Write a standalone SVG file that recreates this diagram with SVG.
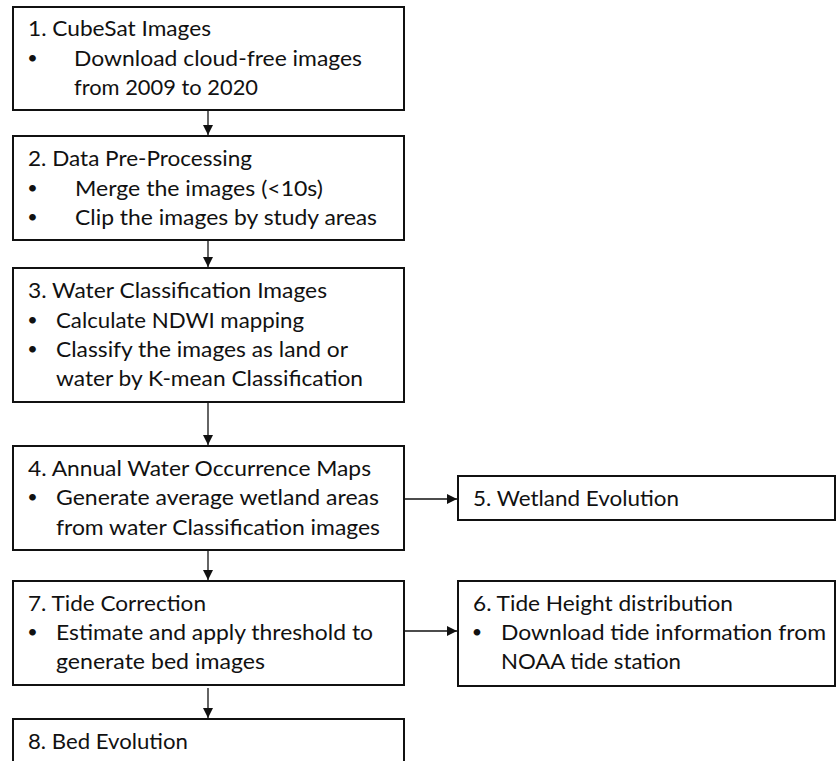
<svg xmlns="http://www.w3.org/2000/svg" width="837" height="761" viewBox="0 0 837 761">
  <style>
    .box { fill: #ffffff; stroke: #111111; stroke-width: 2; }
    .t { font-family: Lato, "Open Sans", "Liberation Sans", sans-serif; font-size: 21.5px; fill: #111111; }
    .b { font-family: Lato, "Open Sans", "Liberation Sans", sans-serif; font-size: 18px; fill: #111111; text-anchor: middle; }
    .link { stroke: #111111; stroke-width: 1.3; fill: none; marker-end: url(#head); }
  </style>
  <defs>
    <marker id="head" viewBox="0 0 10 10" refX="10" refY="5" markerWidth="10" markerHeight="10" markerUnits="userSpaceOnUse" orient="auto">
      <path d="M0,0 L10,5 L0,10 Z" fill="#111111"/>
    </marker>
  </defs>
  <rect width="837" height="761" fill="#ffffff"/>

  <g id="connectors">
    <line class="link" x1="208" y1="111" x2="208" y2="135"/>
    <line class="link" x1="208" y1="241" x2="208" y2="267"/>
    <line class="link" x1="208" y1="403" x2="208" y2="445"/>
    <line class="link" x1="208" y1="551" x2="208" y2="580"/>
    <line class="link" x1="208" y1="688" x2="208" y2="718"/>
    <line class="link" x1="404" y1="499" x2="457" y2="499"/>
    <line class="link" x1="404" y1="631" x2="457" y2="631"/>
  </g>

  <g id="cubesat">
    <rect class="box" x="13" y="7" width="391" height="103"/>
    <text class="t" x="28" y="36" textLength="183" lengthAdjust="spacingAndGlyphs">1. CubeSat Images</text>
    <text class="b" x="32.5" y="63.5">•</text>
    <text class="t" x="74" y="65.5" textLength="288" lengthAdjust="spacingAndGlyphs">Download cloud-free images</text>
    <text class="t" x="74" y="94.5" textLength="184" lengthAdjust="spacingAndGlyphs">from 2009 to 2020</text>
  </g>

  <g id="preprocessing">
    <rect class="box" x="13" y="136" width="391" height="104"/>
    <text class="t" x="28" y="166" textLength="224" lengthAdjust="spacingAndGlyphs">2. Data Pre-Processing</text>
    <text class="b" x="32.5" y="193.5">•</text>
    <text class="t" x="75" y="195.5" textLength="248" lengthAdjust="spacingAndGlyphs">Merge the images (&lt;10s)</text>
    <text class="b" x="32.5" y="222.5">•</text>
    <text class="t" x="75" y="224.5" textLength="302" lengthAdjust="spacingAndGlyphs">Clip the images by study areas</text>
  </g>

  <g id="classification">
    <rect class="box" x="13" y="268" width="391" height="134"/>
    <text class="t" x="28" y="298" textLength="299" lengthAdjust="spacingAndGlyphs">3. Water Classification Images</text>
    <text class="b" x="32.5" y="325.5">•</text>
    <text class="t" x="56" y="327.5" textLength="248" lengthAdjust="spacingAndGlyphs">Calculate NDWI mapping</text>
    <text class="b" x="32.5" y="354.5">•</text>
    <text class="t" x="56" y="356.5" textLength="292" lengthAdjust="spacingAndGlyphs">Classify the images as land or</text>
    <text class="t" x="56" y="386" textLength="307" lengthAdjust="spacingAndGlyphs">water by K-mean Classification</text>
  </g>

  <g id="occurrence">
    <rect class="box" x="13" y="446" width="391" height="104"/>
    <text class="t" x="28" y="476" textLength="343" lengthAdjust="spacingAndGlyphs">4. Annual Water Occurrence Maps</text>
    <text class="b" x="32.5" y="503">•</text>
    <text class="t" x="56" y="505" textLength="323" lengthAdjust="spacingAndGlyphs">Generate average wetland areas</text>
    <text class="t" x="56" y="535" textLength="324" lengthAdjust="spacingAndGlyphs">from water Classification images</text>
  </g>

  <g id="wetland">
    <rect class="box" x="458" y="476" width="377" height="44"/>
    <text class="t" x="473" y="506" textLength="206" lengthAdjust="spacingAndGlyphs">5. Wetland Evolution</text>
  </g>

  <g id="tide-height">
    <rect class="box" x="458" y="581" width="377" height="105"/>
    <text class="t" x="473" y="611" textLength="260" lengthAdjust="spacingAndGlyphs">6. Tide Height distribution</text>
    <text class="b" x="477" y="638">•</text>
    <text class="t" x="501" y="640" textLength="325" lengthAdjust="spacingAndGlyphs">Download tide information from</text>
    <text class="t" x="501" y="669" textLength="180" lengthAdjust="spacingAndGlyphs">NOAA tide station</text>
  </g>

  <g id="tide-correction">
    <rect class="box" x="13" y="581" width="391" height="104"/>
    <text class="t" x="28" y="611" textLength="178" lengthAdjust="spacingAndGlyphs">7. Tide Correction</text>
    <text class="b" x="32.5" y="638">•</text>
    <text class="t" x="56" y="640" textLength="317" lengthAdjust="spacingAndGlyphs">Estimate and apply threshold to</text>
    <text class="t" x="56" y="669" textLength="209" lengthAdjust="spacingAndGlyphs">generate bed images</text>
  </g>

  <g id="bed-evolution">
    <rect class="box" x="13" y="719" width="391" height="60"/>
    <text class="t" x="28" y="748.5" textLength="160" lengthAdjust="spacingAndGlyphs">8. Bed Evolution</text>
  </g>
</svg>
